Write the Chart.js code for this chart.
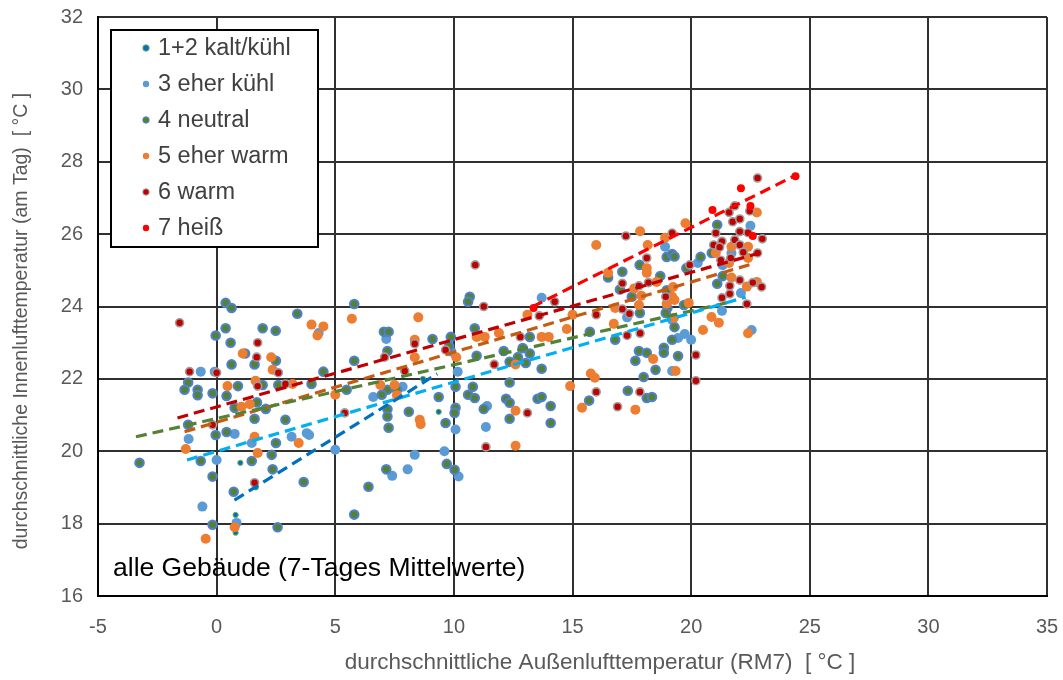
<!DOCTYPE html>
<html>
<head>
<meta charset="utf-8">
<script src="https://cdn.jsdelivr.net/npm/chart.js@4.4.1/dist/chart.umd.min.js"></script>
<style>
  html, body { margin: 0; background: #fff; }
</style>
</head>
<body>
<canvas id="temperaturen" width="1063" height="680"></canvas>
<script>
// Tagesmittel innen vs. RM7 außen, je Klimaempfinden
const kaltKuehl = [[0.8,18.24],[0.8,17.75],[1.0,19.68],[1.65,19.0],[9.36,21.09],[8.7,22.0],[7.04,22.6]];

const eherKuehl = [[-0.67,22.2],[-0.08,22.2],[0.76,20.48],[-1.18,20.34],[1.48,20.23],[3.16,20.4],[3.8,20.5],[3.9,20.45],
  [5.0,20.04],[0.0,19.76],[-0.6,18.47],[0.84,18.02],[4.3,23.27],[7.15,23.1],[9.9,22.75],[10.16,22.2],[13.7,24.24],
  [6.6,21.5],[7.84,21.78],[10.07,20.6],[11.4,21.25],[11.35,20.67],[9.6,20.0],[8.35,19.9],[7.4,19.32],[8.05,19.5],
  [10.2,19.3],[22.5,26.23],[21.33,25.14],[21.7,25.48],[20.28,25.2],[22.1,24.37],[21.3,23.88],[19.45,23.13],
  [19.73,23.24],[20.0,23.08],[19.2,22.22],[22.55,23.35],[17.3,23.7],[18.9,25.65],[19.2,23.63]];

const neutral = [[0.38,24.1],[0.63,23.96],[3.4,23.8],[0.38,23.4],[-0.04,23.2],[1.94,23.4],[2.49,23.33],[0.59,23.0],
  [1.2,22.7],[2.5,22.5],[0.63,22.4],[1.6,22.4],[4.5,22.2],[-1.2,21.9],[-1.35,21.7],[-0.8,21.7],[-0.8,21.55],[0.9,21.8],
  [-0.17,21.6],[0.42,21.53],[0.76,21.2],[1.7,21.35],[2.07,21.17],[1.6,20.9],[2.9,20.87],[-1.2,20.73],[-0.04,20.45],
  [0.42,20.53],[2.5,20.23],[2.32,19.9],[-3.25,19.68],[-0.67,19.73],[1.48,19.73],[2.36,19.5],[-0.17,19.3],[0.72,18.88],
  [3.67,19.15],[-0.17,17.97],[2.57,17.9],[1.94,21.83],[2.6,21.83],[4.0,21.86],
  [5.8,24.07],[10.67,24.27],[10.6,24.13],[10.88,23.4],[7.05,23.3],[7.25,23.3],[9.1,23.1],[9.87,23.16],[7.2,22.77],
  [9.8,22.9],[5.8,22.5],[10.96,22.64],[13.2,23.16],[12.1,22.77],[12.9,22.85],[13.2,22.7],[12.35,22.47],[13.03,22.44],
  [12.7,22.6],[13.7,22.28],[5.48,21.7],[7.2,21.7],[6.96,21.56],[7.6,21.7],[7.2,21.16],[7.2,20.96],[7.25,20.65],
  [8.1,21.09],[9.36,21.5],[9.65,20.78],[10.07,21.78],[10.07,21.2],[10.03,21.06],[10.6,21.56],[10.88,21.47],[10.8,21.78],
  [11.26,21.17],[12.2,21.45],[12.35,21.34],[12.35,20.9],[12.35,21.9],[13.53,21.45],[13.7,21.5],[14.08,21.25],
  [14.08,20.78],[7.15,19.5],[9.7,19.65],[10.03,19.49],[6.4,19.02],[5.8,18.25],
  [21.1,26.26],[20.87,25.48],[20.4,25.37],[19.8,25.06],[21.33,24.84],[21.1,24.63],[18.97,25.37],[19.2,25.45],
  [19.3,25.38],[17.83,25.15],[17.1,24.96],[16.5,24.8],[18.7,24.84],[17.5,24.27],[18.97,24.45],[19.0,23.96],
  [18.93,23.82],[19.7,24.04],[17.84,23.82],[17.0,24.47],[19.3,23.43],[16.8,23.08],[19.2,23.08],[17.8,22.77],
  [18.13,22.72],[17.65,22.5],[18.85,22.86],[18.85,22.72],[19.45,22.63],[18.5,22.25],[18.0,22.05],[17.33,21.67],
  [18.13,21.47],[18.35,21.5],[15.7,21.4],[15.73,23.3]];

const eherWarm = [[4.0,23.5],[4.5,23.45],[4.25,23.2],[1.1,22.7],[2.3,22.6],[2.36,22.25],[0.46,21.8],[1.05,21.23],
  [1.4,21.3],[-1.3,20.06],[1.6,20.4],[3.46,20.23],[1.73,19.95],[0.76,17.9],[-0.46,17.58],[1.64,21.95],[3.2,21.86],
  [5.0,21.56],[5.7,23.66],[8.5,23.7],[8.35,23.08],[10.96,23.16],[11.3,23.16],[11.9,23.27],[8.35,22.6],[10.1,22.6],
  [13.7,23.16],[14.0,23.16],[12.6,22.4],[13.1,23.77],[6.9,21.83],[7.5,21.83],[7.6,21.55],[8.56,20.87],[8.6,20.75],
  [12.6,21.12],[12.6,20.15],[22.77,26.6],[21.7,25.65],[22.4,25.65],[21.04,25.48],[21.6,25.2],[22.4,25.34],[21.7,24.8],
  [22.35,24.55],[22.77,24.68],[20.86,23.71],[21.17,23.55],[19.76,26.3],[17.85,26.08],[18.9,25.9],[16.0,25.7],
  [18.17,25.7],[18.13,25.06],[18.13,24.93],[16.5,24.93],[17.6,24.5],[18.55,24.68],[17.9,24.3],[19.24,24.54],
  [19.2,24.27],[19.3,24.18],[18.97,24.08],[19.9,24.1],[17.8,24.04],[16.8,23.96],[15.0,23.77],[19.27,23.68],
  [18.4,22.55],[19.35,22.22],[15.77,22.15],[15.94,22.03],[14.9,21.8],[15.4,21.2],[17.65,21.15],[20.5,23.35],
  [22.4,23.26],[14.76,23.38],[16.74,23.52]];

const warm = [[-1.56,23.55],[1.73,23.0],[1.69,22.6],[-1.14,22.2],[0.0,22.17],[2.6,22.17],[-0.17,20.73],[1.6,19.13],
  [1.73,21.8],[2.9,21.86],[10.9,25.15],[11.26,24.0],[14.25,24.13],[13.6,23.74],[8.35,22.97],[7.08,22.6],[9.65,22.8],
  [12.8,23.16],[11.7,22.4],[7.93,22.22],[5.4,21.06],[13.1,21.06],[11.35,20.12],
  [22.8,27.55],[21.84,26.78],[21.6,26.6],[21.75,26.34],[22.05,26.42],[22.47,26.64],[22.05,26.07],[22.4,26.04],
  [23.0,25.87],[21.84,25.84],[22.05,25.7],[21.3,25.8],[21.04,26.03],[20.95,25.7],[21.2,25.64],[21.25,25.28],
  [21.67,25.34],[22.2,25.5],[22.8,25.48],[19.94,25.15],[22.05,24.73],[22.6,24.66],[22.97,24.54],[21.63,24.57],
  [21.63,24.35],[22.35,24.07],[21.3,24.24],[17.25,25.95],[19.2,26.03],[18.13,25.34],[17.1,24.64],[17.8,24.57],
  [18.2,24.66],[18.93,24.27],[17.1,23.93],[17.4,23.8],[16.0,23.77],[17.3,23.2],[17.85,23.26],[20.2,22.66],
  [20.2,21.95],[16.0,21.64],[17.84,21.64],[16.9,21.23]];

const heiss = [[24.4,27.6],[22.1,27.27],[20.9,26.67],[22.5,26.78],[22.6,25.95],[13.36,23.96]];

// lineare Trends je Gruppe (Anfangs- und Endpunkt)
const trendKaltKuehl = [[0.75,18.65],[9.3,22.14]];
const trendEherKuehl = [[-1.25,19.76],[22.3,24.26]];
const trendNeutral = [[-3.4,20.4],[21.7,24.13]];
const trendEherWarm = [[-1.35,20.54],[22.7,25.2]];
const trendWarm = [[-1.65,20.92],[23.0,25.5]];
const trendHeiss = [[13.3,23.99],[24.45,27.64]];

const xTicks = [-5, 0, 5, 10, 15, 20, 25, 30, 35];
const yTicks = [16, 18, 20, 22, 24, 26, 28, 30, 32];

const FONT = '"Liberation Sans", Arial, sans-serif';
const toXY = arr => arr.map(p => ({ x: p[0], y: p[1] }));

const gruppen = [
  { label: '1+2 kalt/kühl', data: kaltKuehl, fill: '#0070C0', rand: '#70AD47', r: 2.6, bw: 1, trend: trendKaltKuehl, linie: '#0070C0' },
  { label: '3 eher kühl', data: eherKuehl, fill: '#5B9BD5', rand: '#5B9BD5', r: 5, bw: 0, trend: trendEherKuehl, linie: '#00B0F0' },
  { label: '4 neutral', data: neutral, fill: '#548235', rand: '#4F81D0', r: 4.3, bw: 2, trend: trendNeutral, linie: '#548235' },
  { label: '5 eher warm', data: eherWarm, fill: '#ED7D31', rand: '#ED7D31', r: 5, bw: 0, trend: trendEherWarm, linie: '#C55A11' },
  { label: '6 warm', data: warm, fill: '#C00000', rand: '#9E9E9E', r: 4, bw: 1.6, trend: trendWarm, linie: '#C00000' },
  { label: '7 heiß', data: heiss, fill: '#FF0000', rand: '#FF0000', r: 4, bw: 0, trend: trendHeiss, linie: '#FF0000' }
];

const datasets = [];
gruppen.forEach((g, i) => {
  datasets.push({
    label: g.label,
    data: toXY(g.data),
    backgroundColor: g.fill,
    borderColor: g.rand,
    pointRadius: g.r,
    pointBorderWidth: g.bw,
    pointHoverRadius: g.r,
    order: 10 - i
  });
});
gruppen.forEach(g => {
  datasets.push({
    label: g.label + ' Trend',
    data: toXY(g.trend),
    showLine: true,
    borderColor: g.linie,
    borderWidth: 3.2,
    borderDash: [11, 6],
    pointRadius: 0,
    order: 0
  });
});

// Achsentitel, Legende und Hinweistext
const beschriftung = {
  id: 'beschriftung',
  afterDraw(chart) {
    const ctx = chart.ctx;
    const a = chart.chartArea;
    ctx.save();

    ctx.fillStyle = '#595959';
    ctx.font = '22.5px ' + FONT;
    ctx.textAlign = 'center';
    ctx.textBaseline = 'middle';
    ctx.fillText('durchschnittliche Außenlufttemperatur (RM7)  [ °C ]', 600, 663);
    ctx.save();
    ctx.translate(22, 321);
    ctx.rotate(-Math.PI / 2);
    ctx.font = '19.5px ' + FONT;
    ctx.fillText('durchschnittliche Innenlufttemperatur (am Tag)  [ °C ]', 0, 0);
    ctx.restore();

    // Legende
    const lx = a.left + 13, ly = a.top + 13;
    ctx.fillStyle = '#fff';
    ctx.fillRect(lx, ly, 207, 217);
    ctx.strokeStyle = '#000';
    ctx.lineWidth = 2;
    ctx.strokeRect(lx, ly, 207, 217);
    ctx.font = '23.5px ' + FONT;
    ctx.textAlign = 'left';
    gruppen.forEach((g, i) => {
      const y = ly + 18 + i * 36;
      ctx.beginPath();
      ctx.arc(lx + 35, y, 3.2, 0, Math.PI * 2);
      ctx.fillStyle = g.fill;
      ctx.fill();
      if (g.bw) {
        ctx.lineWidth = 1;
        ctx.strokeStyle = g.rand;
        ctx.stroke();
      }
      ctx.fillStyle = '#404040';
      ctx.fillText(g.label, lx + 47, y + 1);
    });

    ctx.fillStyle = '#000';
    ctx.font = '26.5px ' + FONT;
    ctx.fillText('alle Gebäude (7-Tages Mittelwerte)', a.left + 15, a.bottom - 27);
    ctx.restore();
  }
};

new Chart(document.getElementById('temperaturen'), {
  type: 'scatter',
  data: { datasets },
  options: {
    responsive: false,
    animation: false,
    layout: { padding: { top: 17, right: 16, left: 0, bottom: 0 } },
    plugins: { legend: { display: false }, tooltip: { enabled: false } },
    scales: {
      x: {
        type: 'linear',
        min: xTicks[0],
        max: xTicks[xTicks.length - 1],
        afterBuildTicks: s => { s.ticks = xTicks.map(v => ({ value: v })); },
        // feste Höhe, keine zusätzliche Randreserve für die Randbeschriftungen
        afterFit: s => { s.height = 84; s.paddingLeft = 0; s.paddingRight = 0; },
        ticks: { color: '#595959', font: { family: FONT, size: 20 }, padding: 19, maxRotation: 0 },
        grid: { color: '#303030', lineWidth: 2, drawTicks: false },
        border: { color: '#000', width: 2 }
      },
      y: {
        min: yTicks[0],
        max: yTicks[yTicks.length - 1],
        afterBuildTicks: s => { s.ticks = yTicks.map(v => ({ value: v })); },
        afterFit: s => { s.width = 98; s.paddingTop = 0; s.paddingBottom = 0; },
        ticks: { color: '#595959', font: { family: FONT, size: 20 }, padding: 15 },
        grid: { color: '#303030', lineWidth: 2, drawTicks: false },
        border: { color: '#000', width: 2 }
      }
    }
  },
  plugins: [beschriftung]
});
</script>
</body>
</html>
